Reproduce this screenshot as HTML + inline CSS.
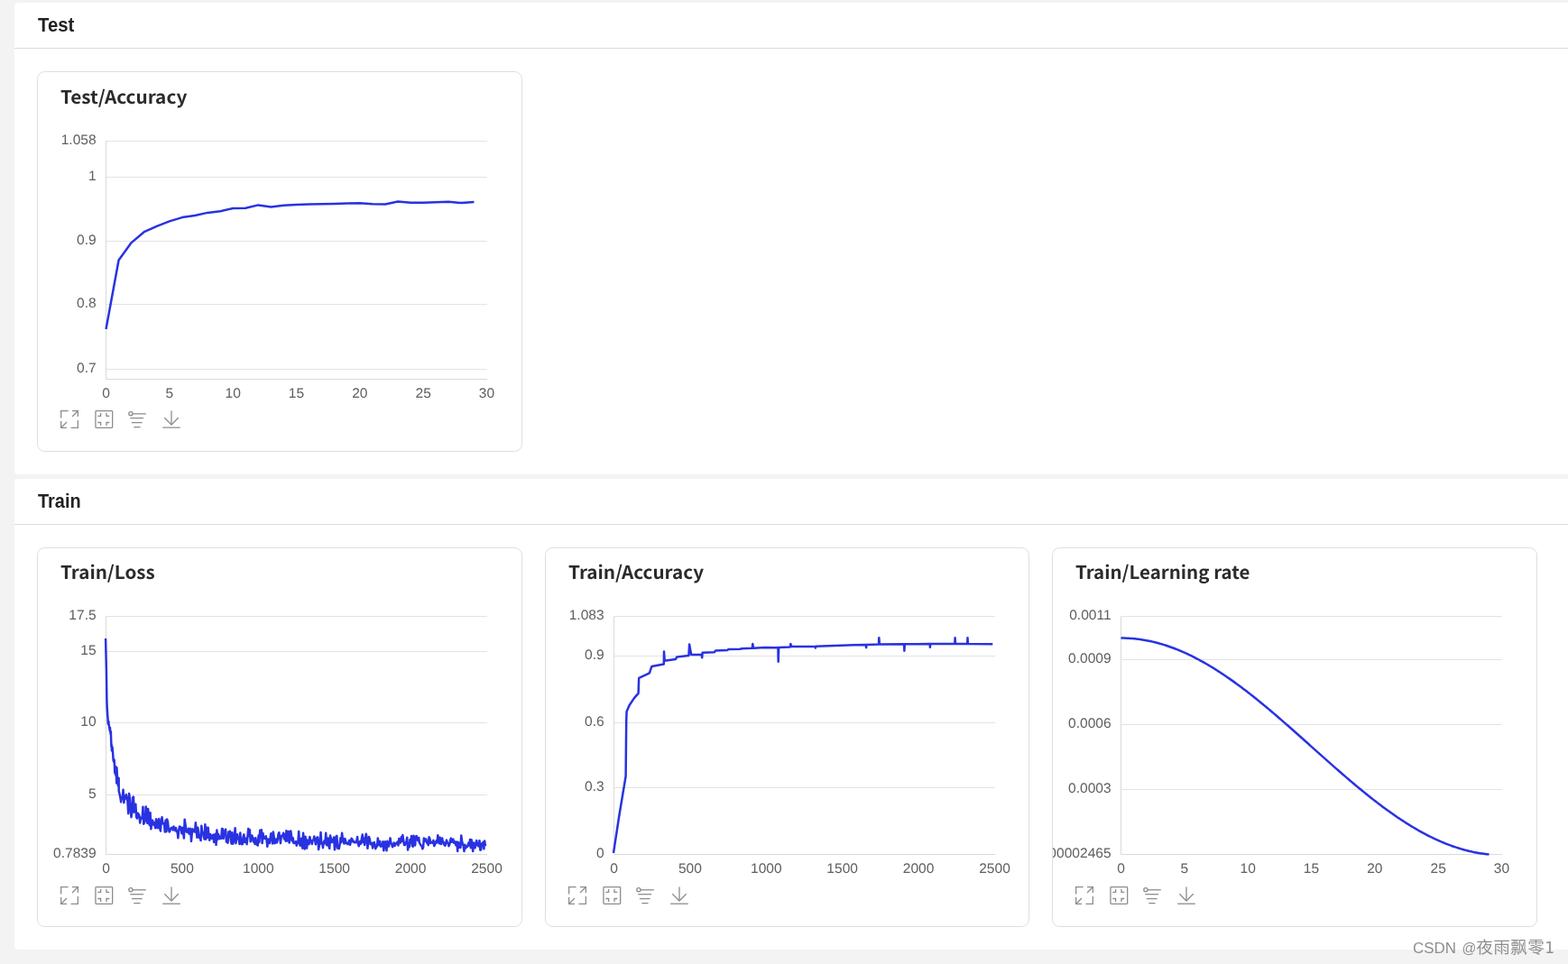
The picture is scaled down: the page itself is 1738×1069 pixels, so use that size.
<!DOCTYPE html>
<html><head><meta charset="utf-8"><title>VisualDL Scalars</title>
<style>
html,body{margin:0;padding:0}
body{width:1738px;height:1069px;overflow:hidden;background:#f3f3f3;position:relative;font-family:'Liberation Sans', 'Noto Sans CJK SC', sans-serif}
.panel{position:absolute;left:16px;right:0;background:#fff;border-radius:4px 0 0 4px}
.ph{position:absolute;left:0;right:0;top:0;height:50px;border-bottom:1px solid #dcdcdc}
.ph svg{position:absolute;left:0;top:0;font-family:'Liberation Sans',sans-serif;font-weight:bold;font-size:20px;fill:#222}
.card{position:absolute;box-sizing:border-box;border:1px solid #dedede;border-radius:8.5px;background:#fff;overflow:hidden}
.cs{position:absolute;left:0;top:0;overflow:hidden}
.wm{position:absolute;left:1560px;top:1036px;fill:#8e8e8e}
</style></head>
<body>
<div class="panel" style="top:3px;height:523px"><div class="ph"><svg width="200" height="50"><text x="26" y="31.8" textLength="40.3" lengthAdjust="spacingAndGlyphs" transform="translate(0 31.8) scale(1 1.06) translate(0 -31.8)">Test</text></svg></div></div>
<div class="panel" style="top:531px;height:522px"><div class="ph"><svg width="200" height="50"><text x="26" y="31.8" textLength="47.6" lengthAdjust="spacingAndGlyphs" transform="translate(0 31.8) scale(1 1.06) translate(0 -31.8)">Train</text></svg></div></div>
<div class="card" style="left:41px;top:79px;width:538px;height:422px"><svg class="cs" width="536" height="420" viewBox="42 80 536 420" font-family="'Liberation Sans', 'Noto Sans CJK SC', sans-serif" font-size="15.6" fill="#5f5f5f" text-rendering="geometricPrecision"><text x="67" y="114.8" font-family="'Noto Sans CJK SC', 'Liberation Sans', sans-serif" font-weight="bold" font-size="20.2" fill="#2b2b2b" textLength="140.3" lengthAdjust="spacingAndGlyphs" transform="translate(0 114.8) scale(1 1.0) translate(0 -114.8)">Test/Accuracy</text><line x1="117.5" y1="156.5" x2="540" y2="156.5" stroke="#e3e3e3" stroke-width="1"/><line x1="117.5" y1="196.5" x2="540" y2="196.5" stroke="#e3e3e3" stroke-width="1"/><line x1="117.5" y1="267.5" x2="540" y2="267.5" stroke="#e3e3e3" stroke-width="1"/><line x1="117.5" y1="337.5" x2="540" y2="337.5" stroke="#e3e3e3" stroke-width="1"/><line x1="117.5" y1="409.5" x2="540" y2="409.5" stroke="#e3e3e3" stroke-width="1"/><line x1="117.5" y1="156.5" x2="117.5" y2="420.5" stroke="#dadada" stroke-width="1"/><line x1="117.5" y1="420.5" x2="540" y2="420.5" stroke="#dadada" stroke-width="1"/><text transform="translate(106.7 159.9) scale(1 0.98)" text-anchor="end">1.058</text><text transform="translate(106.7 200) scale(1 0.98)" text-anchor="end">1</text><text transform="translate(106.7 271.3) scale(1 0.98)" text-anchor="end">0.9</text><text transform="translate(106.7 341.3) scale(1 0.98)" text-anchor="end">0.8</text><text transform="translate(106.7 412.5) scale(1 0.98)" text-anchor="end">0.7</text><text transform="translate(117.5 441.1) scale(1 0.98)" text-anchor="middle">0</text><text transform="translate(187.83 441.1) scale(1 0.98)" text-anchor="middle">5</text><text transform="translate(258.17 441.1) scale(1 0.98)" text-anchor="middle">10</text><text transform="translate(328.5 441.1) scale(1 0.98)" text-anchor="middle">15</text><text transform="translate(398.83 441.1) scale(1 0.98)" text-anchor="middle">20</text><text transform="translate(469.17 441.1) scale(1 0.98)" text-anchor="middle">25</text><text transform="translate(539.5 441.1) scale(1 0.98)" text-anchor="middle">30</text><path d="M117.5 365 L131.57 288.5 L145.63 269.1 L159.7 257.2 L173.77 250.9 L187.83 245.4 L201.9 241.1 L215.97 239 L230.03 235.9 L244.1 234.2 L258.17 231 L272.23 230.7 L286.3 227.4 L300.37 229.6 L314.43 227.7 L328.5 226.9 L342.57 226.6 L356.63 226.3 L370.7 225.9 L384.77 225.6 L398.83 225.3 L412.9 226.2 L426.97 226.5 L441.03 223.5 L455.1 224.7 L469.17 224.8 L483.23 224.2 L497.3 223.8 L511.37 225.1 L525.43 223.9" fill="none" stroke="#2932e1" stroke-width="2.5" stroke-linejoin="round" stroke-linecap="butt"/><g fill="none" stroke="#8c8c8c" stroke-width="1.3" stroke-linecap="butt"><path d="M75.6 455.65H67.65V463.6"/><path d="M80 455.65H86.35V462"/><path d="M67.65 467V474.35H74"/><path d="M78.5 474.35H86.35V466"/><path d="M80 462L86 456"/><path d="M68 474L74 468"/></g><g fill="none" stroke="#8c8c8c" stroke-width="1.3"><rect x="105.95" y="455.65" width="18.7" height="18.7" rx="0.8"/><path d="M111.6 458V461.3H108.3"/><path d="M118 458V461.3H121.3"/><path d="M108.3 468.5H111.6V472"/><path d="M121.3 468.5H118V472"/></g><g fill="none" stroke="#8c8c8c" stroke-width="1.3"><circle cx="144.9" cy="458.7" r="2.1"/><path d="M147 458.8H161.8"/><path d="M144.3 463.7H159.1"/><path d="M145.9 468.6H157.6"/><path d="M148.3 473.6H155.5"/></g><g fill="none" stroke="#8c8c8c" stroke-width="1.3"><path d="M190 455.4V471"/><path d="M182.3 463.3L190 471L197.7 463.3"/><path d="M180.2 474.2H199.8"/></g></svg></div>
<div class="card" style="left:41px;top:607px;width:538px;height:421px"><svg class="cs" width="536" height="419" viewBox="42 608 536 419" font-family="'Liberation Sans', 'Noto Sans CJK SC', sans-serif" font-size="15.6" fill="#5f5f5f" text-rendering="geometricPrecision"><text x="67" y="641.8" font-family="'Noto Sans CJK SC', 'Liberation Sans', sans-serif" font-weight="bold" font-size="20.2" fill="#2b2b2b" textLength="104.6" lengthAdjust="spacingAndGlyphs" transform="translate(0 641.8) scale(1 1.0) translate(0 -641.8)">Train/Loss</text><line x1="117.5" y1="683.5" x2="540" y2="683.5" stroke="#e3e3e3" stroke-width="1"/><line x1="117.5" y1="722.5" x2="540" y2="722.5" stroke="#e3e3e3" stroke-width="1"/><line x1="117.5" y1="801.5" x2="540" y2="801.5" stroke="#e3e3e3" stroke-width="1"/><line x1="117.5" y1="881.5" x2="540" y2="881.5" stroke="#e3e3e3" stroke-width="1"/><line x1="117.5" y1="683.5" x2="117.5" y2="947.5" stroke="#dadada" stroke-width="1"/><line x1="117.5" y1="947.5" x2="540" y2="947.5" stroke="#dadada" stroke-width="1"/><text transform="translate(106.7 686.9) scale(1 0.98)" text-anchor="end">17.5</text><text transform="translate(106.7 725.8) scale(1 0.98)" text-anchor="end">15</text><text transform="translate(106.7 804.5) scale(1 0.98)" text-anchor="end">10</text><text transform="translate(106.7 884.5) scale(1 0.98)" text-anchor="end">5</text><text transform="translate(106.7 950.9) scale(1 0.98)" text-anchor="end">0.7839</text><text transform="translate(117.5 968.1) scale(1 0.98)" text-anchor="middle">0</text><text transform="translate(201.9 968.1) scale(1 0.98)" text-anchor="middle">500</text><text transform="translate(286.3 968.1) scale(1 0.98)" text-anchor="middle">1000</text><text transform="translate(370.7 968.1) scale(1 0.98)" text-anchor="middle">1500</text><text transform="translate(455.1 968.1) scale(1 0.98)" text-anchor="middle">2000</text><text transform="translate(539.5 968.1) scale(1 0.98)" text-anchor="middle">2500</text><path d="M117.1 707.92 L117.35 719.12 L117.6 729.78 L117.85 740.66 L117.91 743.31 L118.1 757.28 L118.35 776.1 L118.6 782.68 L118.72 785.2 L118.85 786.8 L119.1 791.19 L119.35 795.28 L119.53 796.13 L119.6 800.4 L119.85 802.3 L120.1 803.3 L120.34 800.19 L120.35 800.1 L120.6 802.41 L120.85 804.08 L121.15 807.19 L121.2 806.37 L121.75 810.34 L121.97 806.89 L122.3 811.72 L122.78 814.51 L122.85 811.22 L123.4 827.62 L123.59 825.22 L123.95 832.4 L124.4 828.34 L124.5 828.57 L125.05 834.36 L125.21 836.6 L125.6 842.86 L126.02 844.28 L126.15 841.9 L126.7 843.01 L126.83 845.93 L127.25 857.05 L127.64 849.7 L127.8 855.91 L128.35 859.66 L128.45 850.27 L128.9 860.06 L129.26 868.38 L129.45 851.19 L130 862.66 L130.08 864.19 L130.55 862.08 L130.89 871.28 L131.1 869 L131.65 863.05 L131.7 877.26 L132.51 880.27 L133.32 884.14 L134.13 889.39 L134.94 884.26 L135.75 884.05 L136.56 875.83 L137.37 890.15 L138.19 883.11 L139 885.52 L139.81 881.18 L140.62 884.61 L141.43 888.73 L142.24 902.18 L143.05 880.01 L143.86 884.83 L144.67 897.32 L145.48 906.16 L146.3 900.72 L147.11 884.37 L147.92 883.55 L148.73 900.65 L149.54 893.78 L150.35 891.72 L151.16 906.21 L151.97 907.5 L152.78 901.71 L153.59 902.78 L154.41 904.5 L155.22 912.6 L156.03 906.86 L156.84 906.84 L157.65 907.66 L158.46 894.66 L159.27 913.65 L160.08 912.15 L160.89 909.81 L161.7 894.4 L162.52 903.29 L163.33 912.9 L164.14 896.88 L164.95 907.34 L165.76 915.09 L166.57 901.35 L167.38 919.36 L168.19 913.39 L169 909.61 L169.81 912.82 L170.62 914.98 L171.44 912.13 L172.25 918.26 L173.06 908.14 L173.87 909.81 L174.68 918.26 L175.49 912.8 L176.3 907.97 L177.11 918.42 L177.92 921.55 L178.73 911.14 L179.55 906.19 L180.36 913.36 L181.17 913.52 L181.98 912.94 L182.79 922.61 L183.6 909.41 L184.41 922.28 L185.22 908.58 L186.03 911.48 L186.84 919.52 L187.66 922.49 L188.47 921.25 L189.28 918.67 L190.09 917.8 L190.9 918.01 L191.71 920.48 L192.52 916.55 L193.33 919.17 L194.14 920.94 L194.95 918 L195.77 922.29 L196.58 921.38 L197.39 929.34 L198.2 920.39 L199.01 916.5 L199.82 916.96 L200.63 919.06 L201.44 924.24 L202.25 917.65 L203.06 921.68 L203.88 929.59 L204.69 908.73 L205.5 914.14 L206.31 921.65 L207.12 922.68 L207.93 922.05 L208.74 918.71 L209.55 924.68 L210.36 922.92 L211.17 918.89 L211.98 932.93 L212.8 923.95 L213.61 919.38 L214.42 921.99 L215.23 921.55 L216.04 922.62 L216.85 912.18 L217.66 920.83 L218.47 928.85 L219.28 917.73 L220.09 923.67 L220.91 929.07 L221.72 928.67 L222.53 932.07 L223.34 915.63 L224.15 922.72 L224.96 922.9 L225.77 927.99 L226.58 930.52 L227.39 914.14 L228.2 930.71 L229.02 917.74 L229.83 928.83 L230.64 917.74 L231.45 926.43 L232.26 931.77 L233.07 924.98 L233.88 926.83 L234.69 930.05 L235.5 926.76 L236.31 925.63 L237.13 933.98 L237.94 931.55 L238.75 924.75 L239.56 937.02 L240.37 920.51 L241.18 931.07 L241.99 925.11 L242.8 927.19 L243.61 930.16 L244.42 927.76 L245.24 929.92 L246.05 918.99 L246.86 919.14 L247.67 929.96 L248.48 922.03 L249.29 921.76 L250.1 919.59 L250.91 933.48 L251.72 930.94 L252.53 934.67 L253.35 922.61 L254.16 927.42 L254.97 921.77 L255.78 931.42 L256.59 935.63 L257.4 923.28 L258.21 935.64 L259.02 932.85 L259.83 927.09 L260.64 918.21 L261.45 935.17 L262.27 927.75 L263.08 925.3 L263.89 930.38 L264.7 930.51 L265.51 936 L266.32 923.56 L267.13 934.35 L267.94 936.17 L268.75 936.07 L269.56 928.06 L270.38 925.33 L271.19 934.09 L272 929.65 L272.81 929.73 L273.62 936.18 L274.43 927.89 L275.24 918.88 L276.05 927.35 L276.86 920.18 L277.67 933.35 L278.49 930.92 L279.3 926.4 L280.11 929.39 L280.92 933.54 L281.73 929.89 L282.54 936.02 L283.35 929.27 L284.16 934.68 L284.97 936.91 L285.78 937.52 L286.6 926.44 L287.41 934.02 L288.22 920.67 L289.03 924.56 L289.84 920.33 L290.65 935.07 L291.46 923.95 L292.27 929.89 L293.08 929.06 L293.89 929.89 L294.71 927.2 L295.52 931.22 L296.33 938.76 L297.14 930.38 L297.95 932.75 L298.76 935.04 L299.57 929.32 L300.38 924.26 L301.19 927.67 L302 935.51 L302.82 922.53 L303.63 927.58 L304.44 935.29 L305.25 934.29 L306.06 930.58 L306.87 934.42 L307.68 931.41 L308.49 925.04 L309.3 923.25 L310.11 927.68 L310.92 935.13 L311.74 928.11 L312.55 926.55 L313.36 927.21 L314.17 923.65 L314.98 930.37 L315.79 925.39 L316.6 932.71 L317.41 921.13 L318.22 932.61 L319.03 928.08 L319.85 922.01 L320.66 934.57 L321.47 929.91 L322.28 921.39 L323.09 927.18 L323.9 932.67 L324.71 929.2 L325.52 935.02 L326.33 934.9 L327.14 934.56 L327.96 933.01 L328.77 937.73 L329.58 934.62 L330.39 933.69 L331.2 921.94 L332.01 935.82 L332.82 937.76 L333.63 930.35 L334.44 929.59 L335.25 940.77 L336.07 923.71 L336.88 934.03 L337.69 941.59 L338.5 927.66 L339.31 935.14 L340.12 940.68 L340.93 931.47 L341.74 934.63 L342.55 936.22 L343.36 927.94 L344.18 931.71 L344.99 933.48 L345.8 935.94 L346.61 932.03 L347.42 931.32 L348.23 927.59 L349.04 930.62 L349.85 936.35 L350.66 932.77 L351.47 928.44 L352.28 928.52 L353.1 941.93 L353.91 937.58 L354.72 935.32 L355.53 922.91 L356.34 935.29 L357.15 934.67 L357.96 940.15 L358.77 934.47 L359.58 932.25 L360.39 934.95 L361.21 923.82 L362.02 937.3 L362.83 934.12 L363.64 929.51 L364.45 938.67 L365.26 940.87 L366.07 926.43 L366.88 929.77 L367.69 934.1 L368.5 933.64 L369.32 931.05 L370.13 928.49 L370.94 942.3 L371.75 937.56 L372.56 927.58 L373.37 926.93 L374.18 940.59 L374.99 937.42 L375.8 941.15 L376.61 936.66 L377.43 929.18 L378.24 934.25 L379.05 923.76 L379.86 929.81 L380.67 932.9 L381.48 935.51 L382.29 929.98 L383.1 932.68 L383.91 935.29 L384.72 934.95 L385.54 936.13 L386.35 934.25 L387.16 931.91 L387.97 936.86 L388.78 933.61 L389.59 929.77 L390.4 930.68 L391.21 933.46 L392.02 933 L392.83 934.2 L393.65 933.53 L394.46 934.33 L395.27 932.99 L396.08 928.08 L396.89 935.47 L397.7 938.27 L398.51 935.58 L399.32 932.87 L400.13 935.67 L400.94 929.52 L401.75 925.48 L402.57 934.05 L403.38 929.75 L404.19 937.06 L405 929.13 L405.81 924.74 L406.62 929.38 L407.43 940.79 L408.24 932.29 L409.05 928.03 L409.86 930.68 L410.68 936.27 L411.49 936.18 L412.3 934.8 L413.11 940.47 L413.92 937.12 L414.73 933.99 L415.54 936.67 L416.35 941.24 L417.16 938.31 L417.97 938.54 L418.79 929.49 L419.6 933.52 L420.41 937.31 L421.22 932.91 L422.03 938.79 L422.84 936.78 L423.65 938.13 L424.46 933.33 L425.27 943.27 L426.08 939.59 L426.9 933.36 L427.71 934.68 L428.52 943.31 L429.33 932.85 L430.14 938.08 L430.95 938.55 L431.76 934.39 L432.57 929.38 L433.38 935.19 L434.19 935.94 L435.01 939.25 L435.82 937.78 L436.63 934.55 L437.44 938.1 L438.25 936.78 L439.06 935.36 L439.87 934.73 L440.68 933.47 L441.49 937.45 L442.3 930.04 L443.12 931.87 L443.93 934.59 L444.74 928.34 L445.55 932.74 L446.36 926.06 L447.17 931.71 L447.98 937.05 L448.79 937.05 L449.6 934.43 L450.41 933.69 L451.22 928.67 L452.04 942.46 L452.85 936.9 L453.66 939.37 L454.47 931 L455.28 933.97 L456.09 927.05 L456.9 938.09 L457.71 938.76 L458.52 926.77 L459.33 934.6 L460.15 937.5 L460.96 927.39 L461.77 927.14 L462.58 930.37 L463.39 932.23 L464.2 928.97 L465.01 935.05 L465.82 935.98 L466.63 937.62 L467.44 937.92 L468.26 941.31 L469.07 939.9 L469.88 929.47 L470.69 932.87 L471.5 930.54 L472.31 930.48 L473.12 934.68 L473.93 935.05 L474.74 937.1 L475.55 928.36 L476.37 929.84 L477.18 934.96 L477.99 934.22 L478.8 933.76 L479.61 934.81 L480.42 931.89 L481.23 938.03 L482.04 936.58 L482.85 934.73 L483.66 932.28 L484.48 934.38 L485.29 926.31 L486.1 931.01 L486.91 935.28 L487.72 928.83 L488.53 935.97 L489.34 935.76 L490.15 929.39 L490.96 934.11 L491.77 933.85 L492.58 937.09 L493.4 937.73 L494.21 935.03 L495.02 931.63 L495.83 934.59 L496.64 934.92 L497.45 938.27 L498.26 936.44 L499.07 932.2 L499.88 929.58 L500.69 933.67 L501.51 932.15 L502.32 930.61 L503.13 934.76 L503.94 933.21 L504.75 935.69 L505.56 937.44 L506.37 933.55 L507.18 944 L507.99 933.94 L508.8 939.86 L509.62 935.8 L510.43 939.93 L511.24 926.59 L512.05 932.19 L512.86 936.34 L513.67 937.82 L514.48 944.03 L515.29 936.67 L516.1 940.64 L516.91 938.52 L517.73 939.27 L518.54 937.47 L519.35 934.72 L520.16 937.47 L520.97 930.92 L521.78 940.26 L522.59 931.19 L523.4 936.42 L524.21 944.06 L525.02 934.48 L525.84 935.49 L526.65 940.21 L527.46 935.53 L528.27 932.1 L529.08 936.5 L529.89 937.84 L530.7 938.37 L531.51 932.27 L532.32 942.67 L533.13 942.32 L533.95 935.55 L534.76 936.58 L535.57 933.72 L536.38 941.29 L537.19 932.6 L538 938.27" fill="none" stroke="#2932e1" stroke-width="2.5" stroke-linejoin="round" stroke-linecap="butt"/><g fill="none" stroke="#8c8c8c" stroke-width="1.3" stroke-linecap="butt"><path d="M75.6 983.65H67.65V991.6"/><path d="M80 983.65H86.35V990"/><path d="M67.65 995V1002.35H74"/><path d="M78.5 1002.35H86.35V994"/><path d="M80 990L86 984"/><path d="M68 1002L74 996"/></g><g fill="none" stroke="#8c8c8c" stroke-width="1.3"><rect x="105.95" y="983.65" width="18.7" height="18.7" rx="0.8"/><path d="M111.6 986V989.3H108.3"/><path d="M118 986V989.3H121.3"/><path d="M108.3 996.5H111.6V1000"/><path d="M121.3 996.5H118V1000"/></g><g fill="none" stroke="#8c8c8c" stroke-width="1.3"><circle cx="144.9" cy="986.7" r="2.1"/><path d="M147 986.8H161.8"/><path d="M144.3 991.7H159.1"/><path d="M145.9 996.6H157.6"/><path d="M148.3 1001.6H155.5"/></g><g fill="none" stroke="#8c8c8c" stroke-width="1.3"><path d="M190 983.4V999"/><path d="M182.3 991.3L190 999L197.7 991.3"/><path d="M180.2 1002.2H199.8"/></g></svg></div>
<div class="card" style="left:604px;top:607px;width:537px;height:421px"><svg class="cs" width="535" height="419" viewBox="605 608 535 419" font-family="'Liberation Sans', 'Noto Sans CJK SC', sans-serif" font-size="15.6" fill="#5f5f5f" text-rendering="geometricPrecision"><text x="630" y="641.8" font-family="'Noto Sans CJK SC', 'Liberation Sans', sans-serif" font-weight="bold" font-size="20.2" fill="#2b2b2b" textLength="150" lengthAdjust="spacingAndGlyphs" transform="translate(0 641.8) scale(1 1.0) translate(0 -641.8)">Train/Accuracy</text><line x1="680.5" y1="683.5" x2="1103" y2="683.5" stroke="#e3e3e3" stroke-width="1"/><line x1="680.5" y1="727.5" x2="1103" y2="727.5" stroke="#e3e3e3" stroke-width="1"/><line x1="680.5" y1="801.5" x2="1103" y2="801.5" stroke="#e3e3e3" stroke-width="1"/><line x1="680.5" y1="873.5" x2="1103" y2="873.5" stroke="#e3e3e3" stroke-width="1"/><line x1="680.5" y1="683.5" x2="680.5" y2="947.5" stroke="#dadada" stroke-width="1"/><line x1="680.5" y1="947.5" x2="1103" y2="947.5" stroke="#dadada" stroke-width="1"/><text transform="translate(669.7 686.9) scale(1 0.98)" text-anchor="end">1.083</text><text transform="translate(669.7 730.8) scale(1 0.98)" text-anchor="end">0.9</text><text transform="translate(669.7 804.5) scale(1 0.98)" text-anchor="end">0.6</text><text transform="translate(669.7 877) scale(1 0.98)" text-anchor="end">0.3</text><text transform="translate(669.7 950.9) scale(1 0.98)" text-anchor="end">0</text><text transform="translate(680.5 968.1) scale(1 0.98)" text-anchor="middle">0</text><text transform="translate(764.9 968.1) scale(1 0.98)" text-anchor="middle">500</text><text transform="translate(849.3 968.1) scale(1 0.98)" text-anchor="middle">1000</text><text transform="translate(933.7 968.1) scale(1 0.98)" text-anchor="middle">1500</text><text transform="translate(1018.1 968.1) scale(1 0.98)" text-anchor="middle">2000</text><text transform="translate(1102.5 968.1) scale(1 0.98)" text-anchor="middle">2500</text><path d="M680 945.9 L686.2 905.3 L693.6 860.8 L694.2 800 L694.6 788.9 L697.5 782.3 L703.1 773.9 L707.6 768.8 L708.2 751.9 L719.9 746.3 L722.2 739.3 L723.6 738.8 L735.8 736.5 L736 722.5 L736.7 732.7 L748.9 730.9 L750.3 728.5 L763.4 727.1 L764.1 714.5 L766.2 726 L777.4 725.8 L778.2 729.3 L778.6 723.8 L791.8 723.2 L793.1 721.4 L806.2 721.1 L807.5 720.1 L820.6 719.8 L822 719.3 L833.7 718.8 L834.3 714.1 L835.1 718.8 L848.2 718 L862.4 718.3 L862.7 733.7 L863.2 718 L875.7 717.5 L876.4 714.1 L877.3 716.9 L903.6 716.9 L903.9 718.6 L904.3 716.8 L946.2 715.3 L959.8 715 L960.1 718.2 L960.5 715 L974 714.6 L974.3 707.2 L974.9 714.5 L1002.1 714.2 L1002.4 721.8 L1002.8 714.2 L1030.6 714.1 L1030.9 717.8 L1031.3 714.1 L1058.3 714.1 L1058.6 707.2 L1059 714.1 L1072.2 714.1 L1072.5 707.2 L1072.9 714.1 L1100.3 714.2" fill="none" stroke="#2932e1" stroke-width="2.5" stroke-linejoin="round" stroke-linecap="butt"/><g fill="none" stroke="#8c8c8c" stroke-width="1.3" stroke-linecap="butt"><path d="M638.6 983.65H630.65V991.6"/><path d="M643 983.65H649.35V990"/><path d="M630.65 995V1002.35H637"/><path d="M641.5 1002.35H649.35V994"/><path d="M643 990L649 984"/><path d="M631 1002L637 996"/></g><g fill="none" stroke="#8c8c8c" stroke-width="1.3"><rect x="668.95" y="983.65" width="18.7" height="18.7" rx="0.8"/><path d="M674.6 986V989.3H671.3"/><path d="M681 986V989.3H684.3"/><path d="M671.3 996.5H674.6V1000"/><path d="M684.3 996.5H681V1000"/></g><g fill="none" stroke="#8c8c8c" stroke-width="1.3"><circle cx="707.9" cy="986.7" r="2.1"/><path d="M710 986.8H724.8"/><path d="M707.3 991.7H722.1"/><path d="M708.9 996.6H720.6"/><path d="M711.3 1001.6H718.5"/></g><g fill="none" stroke="#8c8c8c" stroke-width="1.3"><path d="M753 983.4V999"/><path d="M745.3 991.3L753 999L760.7 991.3"/><path d="M743.2 1002.2H762.8"/></g></svg></div>
<div class="card" style="left:1166px;top:607px;width:538px;height:421px"><svg class="cs" width="536" height="419" viewBox="1167 608 536 419" font-family="'Liberation Sans', 'Noto Sans CJK SC', sans-serif" font-size="15.6" fill="#5f5f5f" text-rendering="geometricPrecision"><text x="1192" y="641.8" font-family="'Noto Sans CJK SC', 'Liberation Sans', sans-serif" font-weight="bold" font-size="20.2" fill="#2b2b2b" textLength="193.3" lengthAdjust="spacingAndGlyphs" transform="translate(0 641.8) scale(1 1.0) translate(0 -641.8)">Train/Learning rate</text><line x1="1242.5" y1="683.5" x2="1665" y2="683.5" stroke="#e3e3e3" stroke-width="1"/><line x1="1242.5" y1="731.5" x2="1665" y2="731.5" stroke="#e3e3e3" stroke-width="1"/><line x1="1242.5" y1="803.5" x2="1665" y2="803.5" stroke="#e3e3e3" stroke-width="1"/><line x1="1242.5" y1="875.5" x2="1665" y2="875.5" stroke="#e3e3e3" stroke-width="1"/><line x1="1242.5" y1="683.5" x2="1242.5" y2="947.5" stroke="#dadada" stroke-width="1"/><line x1="1242.5" y1="947.5" x2="1665" y2="947.5" stroke="#dadada" stroke-width="1"/><text transform="translate(1231.7 686.9) scale(1 0.98)" text-anchor="end">0.0011</text><text transform="translate(1231.7 734.7) scale(1 0.98)" text-anchor="end">0.0009</text><text transform="translate(1231.7 806.9) scale(1 0.98)" text-anchor="end">0.0006</text><text transform="translate(1231.7 879.1) scale(1 0.98)" text-anchor="end">0.0003</text><text transform="translate(1231.7 950.9) scale(1 0.98)" text-anchor="end">0.000002465</text><text transform="translate(1242.5 968.1) scale(1 0.98)" text-anchor="middle">0</text><text transform="translate(1312.84 968.1) scale(1 0.98)" text-anchor="middle">5</text><text transform="translate(1383.17 968.1) scale(1 0.98)" text-anchor="middle">10</text><text transform="translate(1453.51 968.1) scale(1 0.98)" text-anchor="middle">15</text><text transform="translate(1523.84 968.1) scale(1 0.98)" text-anchor="middle">20</text><text transform="translate(1594.17 968.1) scale(1 0.98)" text-anchor="middle">25</text><text transform="translate(1664.51 968.1) scale(1 0.98)" text-anchor="middle">30</text><path d="M1242.5 707.55 L1243.91 707.56 L1245.31 707.58 L1246.72 707.61 L1248.13 707.66 L1249.53 707.72 L1250.94 707.79 L1252.35 707.88 L1253.75 707.98 L1255.16 708.09 L1256.57 708.21 L1257.97 708.35 L1259.38 708.5 L1260.79 708.67 L1262.19 708.84 L1263.6 709.03 L1265.01 709.24 L1266.41 709.45 L1267.82 709.68 L1269.23 709.93 L1270.63 710.18 L1272.04 710.45 L1273.45 710.73 L1274.85 711.03 L1276.26 711.33 L1277.67 711.65 L1279.07 711.98 L1280.48 712.33 L1281.89 712.69 L1283.29 713.06 L1284.7 713.44 L1286.11 713.84 L1287.51 714.24 L1288.92 714.66 L1290.33 715.1 L1291.73 715.54 L1293.14 716 L1294.55 716.47 L1295.95 716.95 L1297.36 717.45 L1298.77 717.95 L1300.17 718.47 L1301.58 719 L1302.99 719.54 L1304.39 720.1 L1305.8 720.66 L1307.21 721.24 L1308.61 721.83 L1310.02 722.43 L1311.43 723.04 L1312.84 723.67 L1314.24 724.3 L1315.65 724.95 L1317.06 725.61 L1318.46 726.28 L1319.87 726.96 L1321.28 727.65 L1322.68 728.35 L1324.09 729.06 L1325.5 729.79 L1326.9 730.52 L1328.31 731.27 L1329.72 732.03 L1331.12 732.79 L1332.53 733.57 L1333.94 734.36 L1335.34 735.15 L1336.75 735.96 L1338.16 736.78 L1339.56 737.61 L1340.97 738.45 L1342.38 739.29 L1343.78 740.15 L1345.19 741.02 L1346.6 741.89 L1348 742.78 L1349.41 743.68 L1350.82 744.58 L1352.22 745.49 L1353.63 746.42 L1355.04 747.35 L1356.44 748.29 L1357.85 749.24 L1359.26 750.19 L1360.66 751.16 L1362.07 752.14 L1363.48 753.12 L1364.88 754.11 L1366.29 755.11 L1367.7 756.12 L1369.1 757.13 L1370.51 758.15 L1371.92 759.18 L1373.32 760.22 L1374.73 761.27 L1376.14 762.32 L1377.54 763.38 L1378.95 764.45 L1380.36 765.52 L1381.76 766.6 L1383.17 767.69 L1384.58 768.78 L1385.98 769.88 L1387.39 770.99 L1388.8 772.1 L1390.2 773.22 L1391.61 774.35 L1393.02 775.48 L1394.42 776.62 L1395.83 777.76 L1397.24 778.91 L1398.64 780.06 L1400.05 781.22 L1401.46 782.38 L1402.86 783.55 L1404.27 784.72 L1405.68 785.9 L1407.08 787.08 L1408.49 788.27 L1409.9 789.46 L1411.3 790.66 L1412.71 791.86 L1414.12 793.06 L1415.52 794.27 L1416.93 795.48 L1418.34 796.7 L1419.74 797.91 L1421.15 799.14 L1422.56 800.36 L1423.96 801.59 L1425.37 802.82 L1426.78 804.05 L1428.18 805.29 L1429.59 806.53 L1431 807.77 L1432.4 809.01 L1433.81 810.25 L1435.22 811.5 L1436.62 812.75 L1438.03 814 L1439.44 815.25 L1440.84 816.51 L1442.25 817.76 L1443.66 819.02 L1445.06 820.27 L1446.47 821.53 L1447.88 822.79 L1449.28 824.05 L1450.69 825.3 L1452.1 826.56 L1453.51 827.82 L1454.91 829.08 L1456.32 830.34 L1457.73 831.6 L1459.13 832.86 L1460.54 834.12 L1461.95 835.38 L1463.35 836.63 L1464.76 837.89 L1466.17 839.14 L1467.57 840.4 L1468.98 841.65 L1470.39 842.9 L1471.79 844.15 L1473.2 845.39 L1474.61 846.64 L1476.01 847.88 L1477.42 849.12 L1478.83 850.36 L1480.23 851.6 L1481.64 852.83 L1483.05 854.06 L1484.45 855.29 L1485.86 856.51 L1487.27 857.73 L1488.67 858.95 L1490.08 860.17 L1491.49 861.38 L1492.89 862.59 L1494.3 863.79 L1495.71 864.99 L1497.11 866.18 L1498.52 867.38 L1499.93 868.56 L1501.33 869.75 L1502.74 870.92 L1504.15 872.1 L1505.55 873.27 L1506.96 874.43 L1508.37 875.59 L1509.77 876.74 L1511.18 877.89 L1512.59 879.03 L1513.99 880.17 L1515.4 881.3 L1516.81 882.42 L1518.21 883.54 L1519.62 884.66 L1521.03 885.76 L1522.43 886.86 L1523.84 887.96 L1525.25 889.05 L1526.65 890.13 L1528.06 891.2 L1529.47 892.27 L1530.87 893.33 L1532.28 894.38 L1533.69 895.42 L1535.09 896.46 L1536.5 897.49 L1537.91 898.52 L1539.31 899.53 L1540.72 900.54 L1542.13 901.54 L1543.53 902.53 L1544.94 903.51 L1546.35 904.49 L1547.75 905.45 L1549.16 906.41 L1550.57 907.36 L1551.97 908.3 L1553.38 909.23 L1554.79 910.15 L1556.19 911.07 L1557.6 911.97 L1559.01 912.87 L1560.41 913.75 L1561.82 914.63 L1563.23 915.5 L1564.63 916.35 L1566.04 917.2 L1567.45 918.04 L1568.85 918.87 L1570.26 919.68 L1571.67 920.49 L1573.07 921.29 L1574.48 922.08 L1575.89 922.85 L1577.29 923.62 L1578.7 924.38 L1580.11 925.12 L1581.51 925.86 L1582.92 926.58 L1584.33 927.3 L1585.73 928 L1587.14 928.69 L1588.55 929.37 L1589.95 930.04 L1591.36 930.7 L1592.77 931.34 L1594.17 931.98 L1595.58 932.6 L1596.99 933.22 L1598.4 933.82 L1599.8 934.41 L1601.21 934.98 L1602.62 935.55 L1604.02 936.1 L1605.43 936.65 L1606.84 937.18 L1608.24 937.7 L1609.65 938.2 L1611.06 938.7 L1612.46 939.18 L1613.87 939.65 L1615.28 940.1 L1616.68 940.55 L1618.09 940.98 L1619.5 941.4 L1620.9 941.81 L1622.31 942.21 L1623.72 942.59 L1625.12 942.96 L1626.53 943.32 L1627.94 943.66 L1629.34 943.99 L1630.75 944.31 L1632.16 944.62 L1633.56 944.92 L1634.97 945.2 L1636.38 945.46 L1637.78 945.72 L1639.19 945.96 L1640.6 946.19 L1642 946.41 L1643.41 946.61 L1644.82 946.8 L1646.22 946.98 L1647.63 947.14 L1649.04 947.3 L1650.44 947.43" fill="none" stroke="#2932e1" stroke-width="2.5" stroke-linejoin="round" stroke-linecap="butt"/><g fill="none" stroke="#8c8c8c" stroke-width="1.3" stroke-linecap="butt"><path d="M1200.6 983.65H1192.65V991.6"/><path d="M1205 983.65H1211.35V990"/><path d="M1192.65 995V1002.35H1199"/><path d="M1203.5 1002.35H1211.35V994"/><path d="M1205 990L1211 984"/><path d="M1193 1002L1199 996"/></g><g fill="none" stroke="#8c8c8c" stroke-width="1.3"><rect x="1230.95" y="983.65" width="18.7" height="18.7" rx="0.8"/><path d="M1236.6 986V989.3H1233.3"/><path d="M1243 986V989.3H1246.3"/><path d="M1233.3 996.5H1236.6V1000"/><path d="M1246.3 996.5H1243V1000"/></g><g fill="none" stroke="#8c8c8c" stroke-width="1.3"><circle cx="1269.9" cy="986.7" r="2.1"/><path d="M1272 986.8H1286.8"/><path d="M1269.3 991.7H1284.1"/><path d="M1270.9 996.6H1282.6"/><path d="M1273.3 1001.6H1280.5"/></g><g fill="none" stroke="#8c8c8c" stroke-width="1.3"><path d="M1315 983.4V999"/><path d="M1307.3 991.3L1315 999L1322.7 991.3"/><path d="M1305.2 1002.2H1324.8"/></g></svg></div>
<svg class="wm" width="180" height="30" viewBox="1560 1036 180 30"><text x="1566" y="1056.8" font-family="'Liberation Sans',sans-serif" font-size="17.4" textLength="48" lengthAdjust="spacingAndGlyphs">CSDN</text><text x="1620.6" y="1056.6" font-family="'Liberation Sans',sans-serif" font-size="15.6">@</text><text x="1636.2" y="1057.2" font-family="'Noto Sans CJK SC',sans-serif" font-size="18.6" letter-spacing="0.4">夜雨飘零</text><text x="1712.2" y="1056.8" font-family="'DejaVu Sans',sans-serif" font-size="17">1</text></svg>
</body></html>
